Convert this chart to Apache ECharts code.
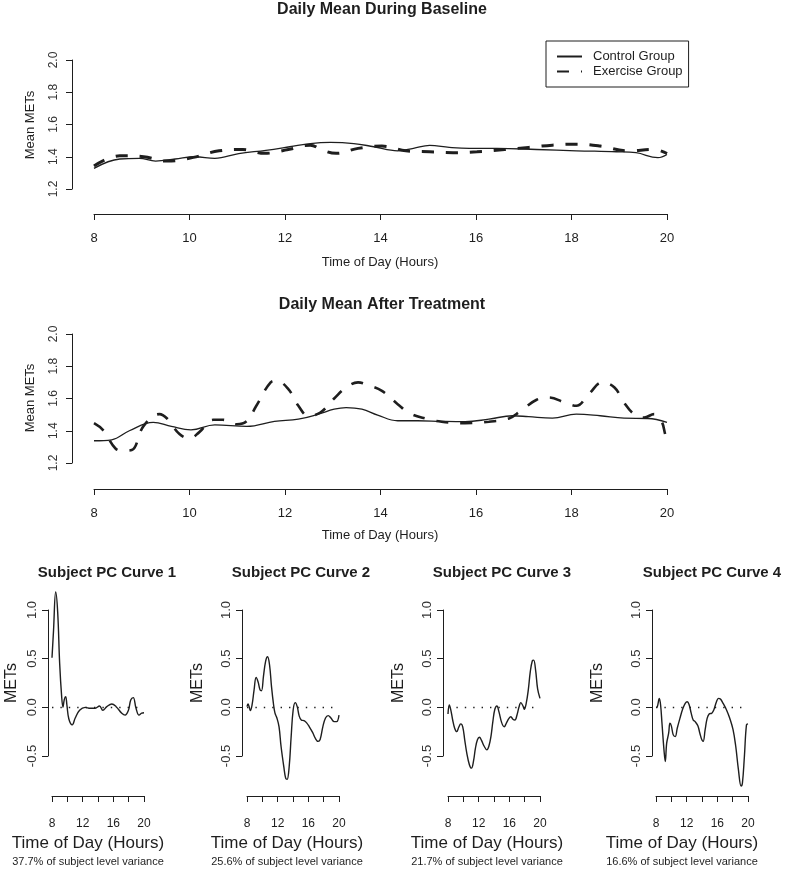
<!DOCTYPE html>
<html>
<head>
<meta charset="utf-8">
<title>Daily Mean METs</title>
<script src="https://cdn.jsdelivr.net/npm/echarts@6/dist/echarts.min.js"></script>
<style>
  html, body { margin: 0; padding: 0; background: #fff; }
  #main { width: 785px; height: 875px; }
</style>
</head>
<body>
<div id="main"></div>
<script type="text/javascript">
// --- data (hours of day, METs) ---
var baseCtrlX = [8.0, 8.54, 8.95, 9.29, 9.7, 10.12, 10.53, 11.03, 11.6, 12.1, 12.53, 12.95, 13.44, 13.86, 14.36, 14.69, 15.03, 15.44, 15.86, 16.44, 17.27, 18.1, 18.94, 19.35, 19.81, 20.0];
var baseCtrlY = [1.328, 1.386, 1.39, 1.373, 1.386, 1.40, 1.39, 1.42, 1.44, 1.462, 1.482, 1.489, 1.482, 1.462, 1.437, 1.452, 1.47, 1.458, 1.452, 1.452, 1.445, 1.437, 1.431, 1.425, 1.394, 1.414];

var baseExX = [8.0, 8.54, 9.04, 9.53, 10.08, 10.62, 11.12, 11.57, 12.07, 12.53, 12.78, 13.07, 13.53, 14.03, 14.53, 15.03, 15.52, 16.02, 16.6, 17.1, 17.6, 18.1, 18.6, 19.18, 19.72, 20.0];
var baseExY = [1.342, 1.406, 1.40, 1.373, 1.396, 1.437, 1.445, 1.421, 1.445, 1.472, 1.441, 1.421, 1.452, 1.466, 1.437, 1.431, 1.425, 1.431, 1.445, 1.458, 1.472, 1.478, 1.466, 1.437, 1.445, 1.42];

var trtCtrlX = [8.0, 8.37, 8.74, 9.24, 9.62, 10.03, 10.53, 11.2, 11.78, 12.28, 12.7, 13.03, 13.28, 13.61, 13.94, 14.36, 14.78, 15.28, 15.77, 16.27, 16.77, 17.1, 17.6, 18.1, 18.6, 19.1, 19.6, 20.0];
var trtCtrlY = [1.338, 1.344, 1.40, 1.452, 1.427, 1.406, 1.437, 1.427, 1.458, 1.472, 1.503, 1.534, 1.544, 1.534, 1.497, 1.462, 1.462, 1.458, 1.456, 1.472, 1.493, 1.487, 1.478, 1.503, 1.493, 1.478, 1.476, 1.452];

var trtExX = [8.0, 8.19, 8.45, 8.62, 8.79, 9.04, 9.37, 9.53, 9.79, 10.0, 10.2, 10.5, 10.7, 10.99, 11.2, 11.4, 11.7, 11.82, 12.07, 12.28, 12.49, 12.74, 13.03, 13.28, 13.53, 13.74, 14.03, 14.36, 14.61, 14.94, 15.28, 15.77, 16.27, 16.69, 16.94, 17.27, 17.52, 17.86, 18.1, 18.36, 18.65, 18.9, 19.1, 19.31, 19.52, 19.73, 19.88, 19.96, 20.0];
var trtExY = [1.447, 1.404, 1.29, 1.276, 1.28, 1.43, 1.503, 1.476, 1.38, 1.353, 1.39, 1.468, 1.468, 1.44, 1.46, 1.555, 1.70, 1.71, 1.658, 1.555, 1.493, 1.513, 1.60, 1.668, 1.70, 1.683, 1.647, 1.565, 1.509, 1.476, 1.456, 1.447, 1.456, 1.476, 1.524, 1.592, 1.606, 1.575, 1.555, 1.627, 1.70, 1.668, 1.575, 1.503, 1.482, 1.503, 1.462, 1.38, 1.32];

var pc1X = [8.0, 8.2, 8.48, 8.74, 9.0, 9.26, 9.43, 9.6, 9.78, 9.95, 10.2, 10.64, 11.03, 11.6, 12.33, 12.98, 13.63, 14.2, 14.63, 15.15, 15.8, 16.36, 17.1, 17.53, 17.97, 18.27, 18.6, 18.96, 19.35, 19.7, 20.0];
var pc1Y = [0.51, 0.79, 1.185, 0.98, 0.45, 0.11, 0.0, 0.08, 0.11, 0.02, -0.12, -0.18, -0.11, -0.03, 0.0, -0.01, -0.01, 0.014, -0.03, 0.007, 0.034, 0.007, -0.06, -0.08, -0.03, 0.075, 0.1, -0.01, -0.08, -0.06, -0.055];

var pc2X = [8.0, 8.13, 8.3, 8.44, 8.66, 8.92, 9.19, 9.45, 9.71, 9.89, 10.15, 10.42, 10.68, 10.95, 11.2, 11.47, 11.65, 11.9, 12.18, 12.44, 12.8, 13.05, 13.23, 13.5, 13.76, 14.02, 14.29, 14.55, 14.81, 15.08, 15.43, 15.78, 16.13, 16.57, 16.92, 17.27, 17.54, 17.89, 18.24, 18.59, 18.95, 19.38, 19.69, 20.0];
var pc2Y = [0.007, 0.034, 0.0, -0.034, 0.024, 0.177, 0.307, 0.26, 0.177, 0.17, 0.32, 0.47, 0.52, 0.43, 0.21, 0.024, -0.06, -0.11, -0.2, -0.40, -0.61, -0.73, -0.74, -0.61, -0.30, -0.027, 0.048, 0.007, -0.09, -0.13, -0.137, -0.16, -0.2, -0.26, -0.32, -0.35, -0.33, -0.2, -0.11, -0.085, -0.11, -0.147, -0.147, -0.08];

var pc3X = [8.0, 8.17, 8.35, 8.61, 8.87, 9.14, 9.4, 9.66, 9.92, 10.18, 10.45, 10.79, 11.06, 11.32, 11.58, 11.84, 12.1, 12.37, 12.72, 13.07, 13.33, 13.6, 13.85, 14.11, 14.38, 14.64, 15.0, 15.34, 15.6, 15.95, 16.2, 16.47, 16.73, 17.0, 17.25, 17.5, 17.78, 17.95, 18.2, 18.47, 18.73, 19.0, 19.17, 19.43, 19.69, 20.0];
var pc3Y = [-0.068, 0.024, -0.02, -0.13, -0.215, -0.25, -0.205, -0.17, -0.2, -0.334, -0.47, -0.59, -0.625, -0.556, -0.42, -0.334, -0.307, -0.34, -0.40, -0.437, -0.40, -0.30, -0.147, -0.02, 0.014, -0.044, -0.157, -0.2, -0.164, -0.113, -0.096, -0.123, -0.13, -0.078, 0.0, 0.048, 0.014, -0.02, 0.041, 0.177, 0.365, 0.478, 0.485, 0.38, 0.19, 0.092];

var pc4X = [8.0, 8.17, 8.43, 8.6, 8.78, 9.04, 9.21, 9.39, 9.65, 9.82, 10.0, 10.25, 10.51, 10.77, 11.12, 11.47, 11.81, 12.07, 12.33, 12.59, 12.85, 13.11, 13.46, 13.72, 13.98, 14.15, 14.41, 14.67, 14.93, 15.28, 15.54, 15.89, 16.15, 16.4, 16.75, 17.2, 17.62, 18.05, 18.4, 18.75, 19.1, 19.27, 19.53, 19.8, 20.0];
var pc4Y = [0.0, 0.007, 0.092, 0.024, -0.164, -0.437, -0.556, -0.37, -0.266, -0.164, -0.19, -0.283, -0.30, -0.215, -0.113, -0.02, 0.041, 0.058, 0.024, -0.06, -0.13, -0.147, -0.19, -0.266, -0.334, -0.35, -0.23, -0.113, -0.068, -0.06, -0.027, 0.058, 0.092, 0.085, 0.041, -0.027, -0.113, -0.23, -0.40, -0.64, -0.81, -0.78, -0.505, -0.18, -0.17];

var pcTitles = ['Subject PC Curve 1', 'Subject PC Curve 2', 'Subject PC Curve 3', 'Subject PC Curve 4'];
var pcVariance = ['37.7% of subject level variance', '25.6% of subject level variance', '21.7% of subject level variance', '16.6% of subject level variance'];

(function () {
    var FONT = '"Liberation Sans", Arial, Helvetica, sans-serif';
    var INK = '#1e1e1e';

    function pairs(xs, ys) {
        return xs.map(function (x, i) { return [x, ys[i]]; });
    }

    // grid boxes: left edge = hour 8, right edge = hour 20
    var grids = [
        { left: 94, top: 60, width: 573, height: 129 },
        { left: 94, top: 334, width: 573, height: 129 },
        { left: 52, top: 610, width: 92, height: 146 },
        { left: 247, top: 610, width: 92, height: 146 },
        { left: 448, top: 610, width: 92, height: 146 },
        { left: 656, top: 610, width: 92, height: 146 }
    ];
    var xOffsets = [25, 26, 40, 40, 40, 40];
    var yOffsets = [22, 22, 4, 5, 5, 4];

    var xAxes = [], yAxes = [];
    grids.forEach(function (g, i) {
        var top = i < 2;
        xAxes.push({
            type: 'value', gridIndex: i, min: 8, max: 20, interval: 2,
            offset: xOffsets[i],
            axisLine: { onZero: false, lineStyle: { color: INK, width: 1 } },
            axisTick: { length: 6, lineStyle: { color: INK } },
            splitLine: { show: false },
            axisLabel: {
                margin: top ? 18 : 22, fontSize: top ? 13 : 12, fontFamily: FONT, color: INK,
                formatter: function (v) { return (top || v % 4 === 0) ? String(v) : ''; }
            }
        });
        yAxes.push({
            type: 'value', gridIndex: i,
            min: top ? 1.2 : -0.5, max: top ? 2.0 : 1.0, interval: top ? 0.2 : 0.5,
            offset: yOffsets[i],
            axisLine: { show: true, onZero: false, lineStyle: { color: INK, width: 1 } },
            axisTick: { show: true, length: 6, lineStyle: { color: INK } },
            splitLine: { show: false },
            axisLabel: {
                rotate: 90, margin: top ? 12 : 9, fontSize: top ? 12 : 13, fontFamily: FONT, color: '#333',
                formatter: function (v) { return v.toFixed(1); }
            }
        });
    });

    function solid(name, idx, data) {
        return {
            name: name, type: 'line', xAxisIndex: idx, yAxisIndex: idx,
            data: data, smooth: 0.4, symbol: 'none',
            lineStyle: { color: INK, width: 1.3 }, itemStyle: { color: INK }
        };
    }
    function dashed(name, idx, data, w) {
        return {
            name: name, type: 'line', xAxisIndex: idx, yAxisIndex: idx,
            data: data, smooth: 0.4, symbol: 'none',
            lineStyle: { color: INK, width: w, type: [12, 12] }, itemStyle: { color: INK }
        };
    }
    function pcLine(idx, data) {
        return {
            name: 'pc' + idx, type: 'line', xAxisIndex: idx, yAxisIndex: idx,
            data: data, smooth: 0.4, symbol: 'none', clip: false,
            lineStyle: { color: INK, width: 1.4 },
            markLine: {
                silent: true, symbol: 'none', label: { show: false },
                lineStyle: { color: INK, width: 1.4, type: [1.4, 7] },
                data: [{ yAxis: 0 }]
            }
        };
    }

    var series = [
        solid('Control Group', 0, pairs(baseCtrlX, baseCtrlY)),
        dashed('Exercise Group', 0, pairs(baseExX, baseExY), 3),
        solid('Control Group', 1, pairs(trtCtrlX, trtCtrlY)),
        dashed('Exercise Group', 1, pairs(trtExX, trtExY), 2.6),
        pcLine(2, pairs(pc1X, pc1Y)),
        pcLine(3, pairs(pc2X, pc2Y)),
        pcLine(4, pairs(pc3X, pc3Y)),
        pcLine(5, pairs(pc4X, pc4Y))
    ];

    function txt(text, x, y, size, bold, rot) {
        return {
            type: 'text', x: x, y: y, rotation: rot || 0, silent: true,
            style: {
                text: text, fill: INK,
                font: (bold ? 'bold ' : '') + size + 'px ' + FONT,
                align: 'center', verticalAlign: 'middle',
                textAlign: 'center', textVerticalAlign: 'middle'
            }
        };
    }

    var texts = [
        txt('Daily Mean During Baseline', 382, 10, 16, true),
        txt('Daily Mean After Treatment', 382, 305, 16, true),
        txt('Mean METs', 30, 125, 13, false, Math.PI / 2),
        txt('Mean METs', 30, 398, 13, false, Math.PI / 2),
        txt('Time of Day (Hours)', 380, 262, 13),
        txt('Time of Day (Hours)', 380, 535, 13)
    ];
    var pcTitleX = [107, 301, 502, 712];
    var pcMetsX = [12, 198, 399, 598];
    var pcLabX = [88, 287, 487, 682];
    for (var k = 0; k < 4; k++) {
        texts.push(txt(pcTitles[k], pcTitleX[k], 573, 15, true));
        texts.push(txt('METs', pcMetsX[k], 683, 16, false, Math.PI / 2));
        texts.push(txt('Time of Day (Hours)', pcLabX[k], 843, 17));
        texts.push(txt(pcVariance[k], pcLabX[k], 862, 11));
    }

    var chart = echarts.init(document.getElementById('main'));
    chart.setOption({
        animation: false,
        backgroundColor: '#fff',
        legend: {
            data: ['Control Group', 'Exercise Group'],
            orient: 'vertical', left: 546, top: 41,
            padding: [9, 6, 9, 10], itemWidth: 25, itemHeight: 14, itemGap: 2,
            borderColor: INK, borderWidth: 1,
            itemStyle: { opacity: 0, borderWidth: 0 },
            textStyle: { fontSize: 13, fontFamily: FONT, color: INK, padding: [0, 0, 0, 6] }
        },
        grid: grids,
        xAxis: xAxes,
        yAxis: yAxes,
        series: series,
        graphic: texts
    });
})();
</script>
</body>
</html>
